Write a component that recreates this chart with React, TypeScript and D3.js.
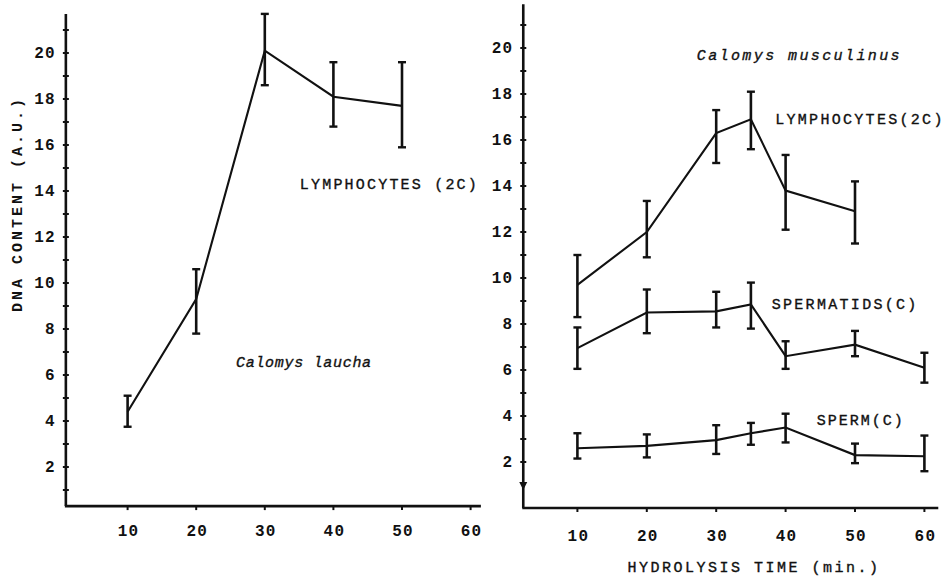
import * as d3 from "d3";

// Left panel: Calomys laucha, lymphocytes (2C)
const leftTimes = [10, 20, 30, 40, 50];
const leftMeans = [4.4, 9.3, 20.1, 18.1, 17.7];
const leftLow = [3.75, 7.8, 18.6, 16.8, 15.9];
const leftHigh = [5.1, 10.6, 21.7, 19.6, 19.6];

// Right panel: Calomys musculinus
const lymphTimes = [10, 20, 30, 35, 40, 50];
const lymphMeans = [9.7, 12.0, 16.3, 16.9, 13.8, 12.9];
const lymphLow = [8.3, 10.9, 15.0, 15.6, 12.1, 11.5];
const lymphHigh = [11.0, 13.35, 17.3, 18.1, 15.35, 14.2];

const spdTimes = [10, 20, 30, 35, 40, 50, 60];
const spdMeans = [6.95, 8.5, 8.55, 8.85, 6.6, 7.1, 6.1];
const spdLow = [6.05, 7.6, 7.85, 7.8, 6.05, 6.6, 5.45];
const spdHigh = [7.85, 9.5, 9.4, 9.8, 7.25, 7.7, 6.75];

const spmTimes = [10, 20, 30, 35, 40, 50, 60];
const spmMeans = [2.6, 2.7, 2.95, 3.25, 3.5, 2.3, 2.25];
const spmLow = [2.15, 2.2, 2.35, 2.75, 2.85, 1.95, 1.6];
const spmHigh = [3.25, 3.2, 3.6, 3.7, 4.1, 2.8, 3.15];

const xTickLabels = [10, 20, 30, 40, 50, 60];
const yTickLabels = [2, 4, 6, 8, 10, 12, 14, 16, 18, 20];
const yMinorTicks = d3.range(1, 22);

const MONO = "'Liberation Mono', 'DejaVu Sans Mono', monospace";

type Pt = { t: number; v: number; lo: number; hi: number };
const zipSeries = (t: number[], m: number[], lo: number[], hi: number[]): Pt[] =>
  t.map((d, i) => ({ t: d, v: m[i], lo: lo[i], hi: hi[i] }));

const leftData = zipSeries(leftTimes, leftMeans, leftLow, leftHigh);
const lymphData = zipSeries(lymphTimes, lymphMeans, lymphLow, lymphHigh);
const spdData = zipSeries(spdTimes, spdMeans, spdLow, spdHigh);
const spmData = zipSeries(spmTimes, spmMeans, spmLow, spmHigh);

type Scale = d3.ScaleLinear<number, number>;

function Series({ data, x, y }: { data: Pt[]; x: Scale; y: Scale }) {
  const line = d3
    .line<Pt>()
    .x((d) => x(d.t))
    .y((d) => y(d.v));
  return (
    <g>
      <path d={line(data) ?? ""} fill="none" stroke="#111" strokeWidth={2.1} />
      {data.map((d, i) => (
        <g key={i} stroke="#111">
          <line x1={x(d.t)} x2={x(d.t)} y1={y(d.lo)} y2={y(d.hi)} strokeWidth={2.6} />
          <line x1={x(d.t) - 4} x2={x(d.t) + 4} y1={y(d.hi)} y2={y(d.hi)} strokeWidth={2.4} />
          <line x1={x(d.t) - 4} x2={x(d.t) + 4} y1={y(d.lo)} y2={y(d.lo)} strokeWidth={2.4} />
        </g>
      ))}
    </g>
  );
}

const tickText = {
  fontFamily: MONO,
  fontWeight: "bold",
  fontSize: 16,
  letterSpacing: 1.2,
  fill: "#111",
};

function Axes({
  x,
  y,
  xAt,
  yAt,
  xEnd,
  yTop,
  xLabelDy,
  arrow,
}: {
  x: Scale;
  y: Scale;
  xAt: number;
  yAt: number;
  xEnd: number;
  yTop: number;
  xLabelDy: number;
  arrow?: boolean;
}) {
  const ax = x(xAt);
  const ay = y(yAt);
  return (
    <g>
      <line x1={ax} x2={ax} y1={y(yTop)} y2={ay} stroke="#111" strokeWidth={2.6} />
      <line x1={ax - 1} x2={x(xEnd)} y1={ay} y2={ay} stroke="#111" strokeWidth={2.6} />
      {yMinorTicks.map((v) =>
        arrow && v === 1 ? (
          <path
            key={v}
            d={`M${ax - 4},${y(v) - 3}L${ax + 4},${y(v) - 3}L${ax},${y(v) + 5}Z`}
            fill="#111"
          />
        ) : (
          <line key={v} x1={ax - 3} x2={ax + 3} y1={y(v)} y2={y(v)} stroke="#111" strokeWidth={2} />
        )
      )}
      {yTickLabels.map((v) => (
        <text key={v} {...tickText} x={ax - 10} y={y(v) + 5} textAnchor="end">
          {v}
        </text>
      ))}
      {xTickLabels.map((t) => (
        <g key={t}>
          <line x1={x(t)} x2={x(t)} y1={ay} y2={ay + 4} stroke="#111" strokeWidth={2} />
          <text {...tickText} x={x(t) + 1} y={ay + xLabelDy} textAnchor="middle">
            {t}
          </text>
        </g>
      ))}
    </g>
  );
}

export default function App() {
  const xL = d3.scaleLinear().domain([0, 60]).range([59, 470.6]);
  const yL = d3.scaleLinear().domain([0, 20]).range([513, 53]);
  const xR = d3.scaleLinear().domain([0, 60]).range([508, 924.4]);
  const yR = d3.scaleLinear().domain([0, 20]).range([508, 48]);

  const label = {
    fontFamily: MONO,
    fontSize: 15,
    fill: "#111",
    stroke: "#111",
    strokeWidth: 0.35,
  };

  return (
    <svg
      width={946}
      height={578}
      style={{ position: "absolute", left: 0, top: 0, background: "#fff" }}
    >
      <rect width={946} height={578} fill="#fff" />

      {/* left panel */}
      <Axes x={xL} y={yL} xAt={1} yAt={0.3} xEnd={61.5} yTop={21.7} xLabelDy={30} />
      <Series data={leftData} x={xL} y={yL} />
      <text {...label} x={xL(35.1)} y={yL(14.1)} letterSpacing={2.2}>
        LYMPHOCYTES (2C)
      </text>
      <text {...label} x={xL(25.8)} y={yL(6.35)} fontStyle="italic" letterSpacing={0.7}>
        Calomys laucha
      </text>
      <text
        {...label}
        fontWeight="bold"
        fontSize={15}
        strokeWidth={0}
        letterSpacing={3}
        textAnchor="middle"
        transform={`translate(22,204) rotate(-90)`}
      >
        DNA CONTENT (A.U.)
      </text>

      {/* right panel */}
      <Axes x={xR} y={yR} xAt={2.2} yAt={0} xEnd={62} yTop={21.9} xLabelDy={33} arrow />
      <Series data={lymphData} x={xR} y={yR} />
      <Series data={spdData} x={xR} y={yR} />
      <Series data={spmData} x={xR} y={yR} />
      <text {...label} x={xR(27.2)} y={yR(19.5)} fontStyle="italic" letterSpacing={2.4}>
        Calomys musculinus
      </text>
      <text {...label} x={xR(38.5)} y={yR(16.7)} letterSpacing={2.3}>
        LYMPHOCYTES(2C)
      </text>
      <text {...label} x={xR(38.0)} y={yR(8.65)} letterSpacing={2.3}>
        SPERMATIDS(C)
      </text>
      <text {...label} x={xR(44.5)} y={yR(3.6)} letterSpacing={2}>
        SPERM(C)
      </text>
      <text {...label} x={754} y={572} textAnchor="middle" letterSpacing={2.5}>
        HYDROLYSIS TIME (min.)
      </text>
    </svg>
  );
}
